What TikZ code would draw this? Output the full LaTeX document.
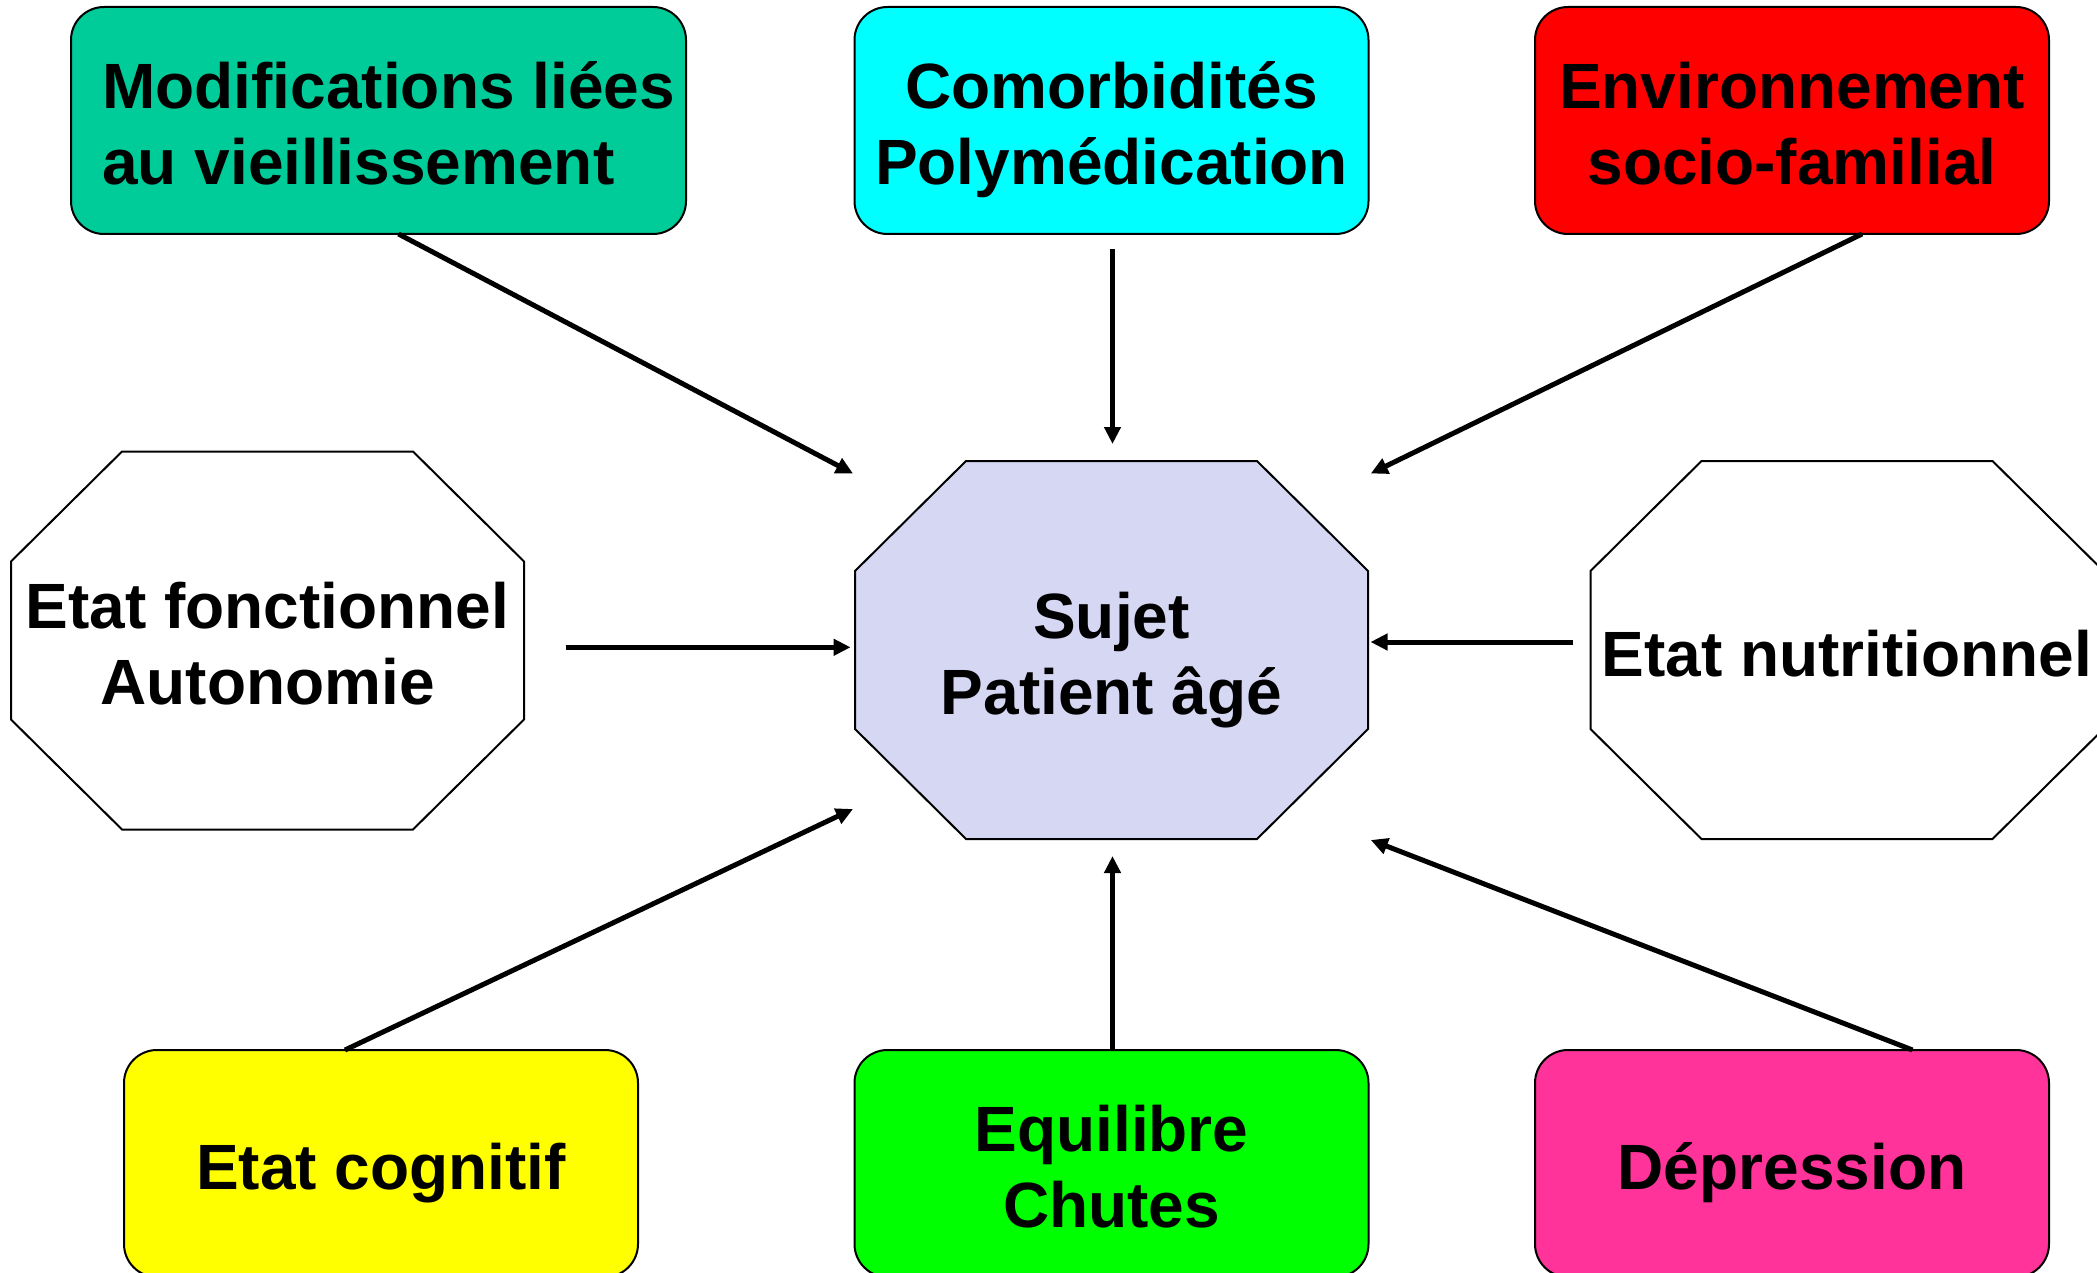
\documentclass[tikz,border=0pt]{standalone}
\usepackage{fontspec}
\setmainfont{Liberation Sans}
\usetikzlibrary{arrows.meta,backgrounds}
\definecolor{cTeal}{RGB}{0,204,153}
\definecolor{cCyan}{RGB}{0,255,255}
\definecolor{cRed}{RGB}{255,0,0}
\definecolor{cLav}{RGB}{214,215,243}
\definecolor{cYel}{RGB}{255,255,0}
\definecolor{cGreen}{RGB}{0,255,0}
\definecolor{cPink}{RGB}{255,51,153}
\newcommand{\hstrut}{\rule{0pt}{70pt}}
\newcommand{\dstrut}{\rule[-17.6pt]{0pt}{17.6pt}}
\newcommand{\drawoct}[2]{%
  \draw[octline, fill=#2] ([xshift=111pt]#1.north west) -- ([xshift=-111pt]#1.north east)
    -- ([yshift=-110pt]#1.north east) -- ([yshift=110pt]#1.south east)
    -- ([xshift=-111pt]#1.south east) -- ([xshift=111pt]#1.south west)
    -- ([yshift=110pt]#1.south west) -- ([yshift=-110pt]#1.north west) -- cycle;}
\begin{document}
\begin{tikzpicture}[x=1pt,y=1pt,
  lbl/.style={font=\bfseries\fontsize{64}{76}\selectfont, align=center},
  rbox/.style={lbl, draw=black, line width=2pt, rounded corners=33pt,
    minimum width=514pt, minimum height=227pt, inner sep=0pt, outer sep=0pt},
  octnode/.style={lbl, minimum width=513pt, minimum height=378pt, inner sep=0pt, outer sep=0pt},
  octline/.style={draw=black, line width=2pt, line join=miter},
  arr/.style={line width=5pt, -{Triangle[length=17pt,width=16pt]}}]
\useasboundingbox (0,0) rectangle (2097,-1273);

% top row
\node[rbox, fill=cTeal, minimum width=615pt, align=left] (tl) at (378.5,-120.5)
  {\hspace*{20pt}\hstrut Modifications liées\\\hspace*{20pt}au vieillissement\dstrut};
\node[rbox, fill=cCyan] (tc) at (1111.5,-120.5) {\hstrut Comorbidités\\Polymédication\dstrut};
\node[rbox, fill=cRed] (tr) at (1792,-120.5) {\hstrut Environnement\\socio-familial\dstrut};

% middle row (octagons)
\node[octnode] (lo) at (267.5,-640.5) {\hstrut Etat fonctionnel\\Autonomie\dstrut};
\node[octnode] (c) at (1111.5,-650) {\hstrut Sujet\\Patient âgé\dstrut};
\node[octnode] (ro) at (1847,-650) {\hstrut Etat nutritionnel\dstrut};
\begin{scope}[on background layer]
  \drawoct{lo}{white}
  \drawoct{c}{cLav}
  \drawoct{ro}{white}
\end{scope}

% bottom row
\node[rbox, fill=cYel] (bl) at (381,-1163.5) {\hstrut Etat cognitif\dstrut};
\node[rbox, fill=cGreen] (bc) at (1111.5,-1163.5) {\hstrut Equilibre\\Chutes\dstrut};
\node[rbox, fill=cPink] (br) at (1792,-1163.5) {\hstrut Dépression\dstrut};

% arrow free ends
\coordinate (e1) at (853,-473.5);
\coordinate (e2) at (1112.5,-444);
\coordinate (e3) at (1370.8,-473.5);
\coordinate (s4) at (565.7,-647.3);
\coordinate (e4) at (850.6,-647.3);
\coordinate (s5) at (1572.8,-642);
\coordinate (e5) at (1370.5,-642);
\coordinate (e6) at (853,-809);
\coordinate (e7) at (1112.5,-856);
\coordinate (e8) at (1370.8,-840);

\draw[arr] ([xshift=20pt]tl.south) -- (e1);
\draw[arr] ([xshift=1pt,yshift=-15pt]tc.south) -- (e2);
\draw[arr] ([xshift=70pt]tr.south) -- (e3);
\draw[arr] (s4) -- (e4);
\draw[arr] (s5) -- (e5);
\draw[arr] ([xshift=-36pt]bl.north) -- (e6);
\draw[arr] ([xshift=1pt]bc.north) -- (e7);
\draw[arr] ([xshift=120.5pt]br.north) -- (e8);
\end{tikzpicture}
\end{document}
